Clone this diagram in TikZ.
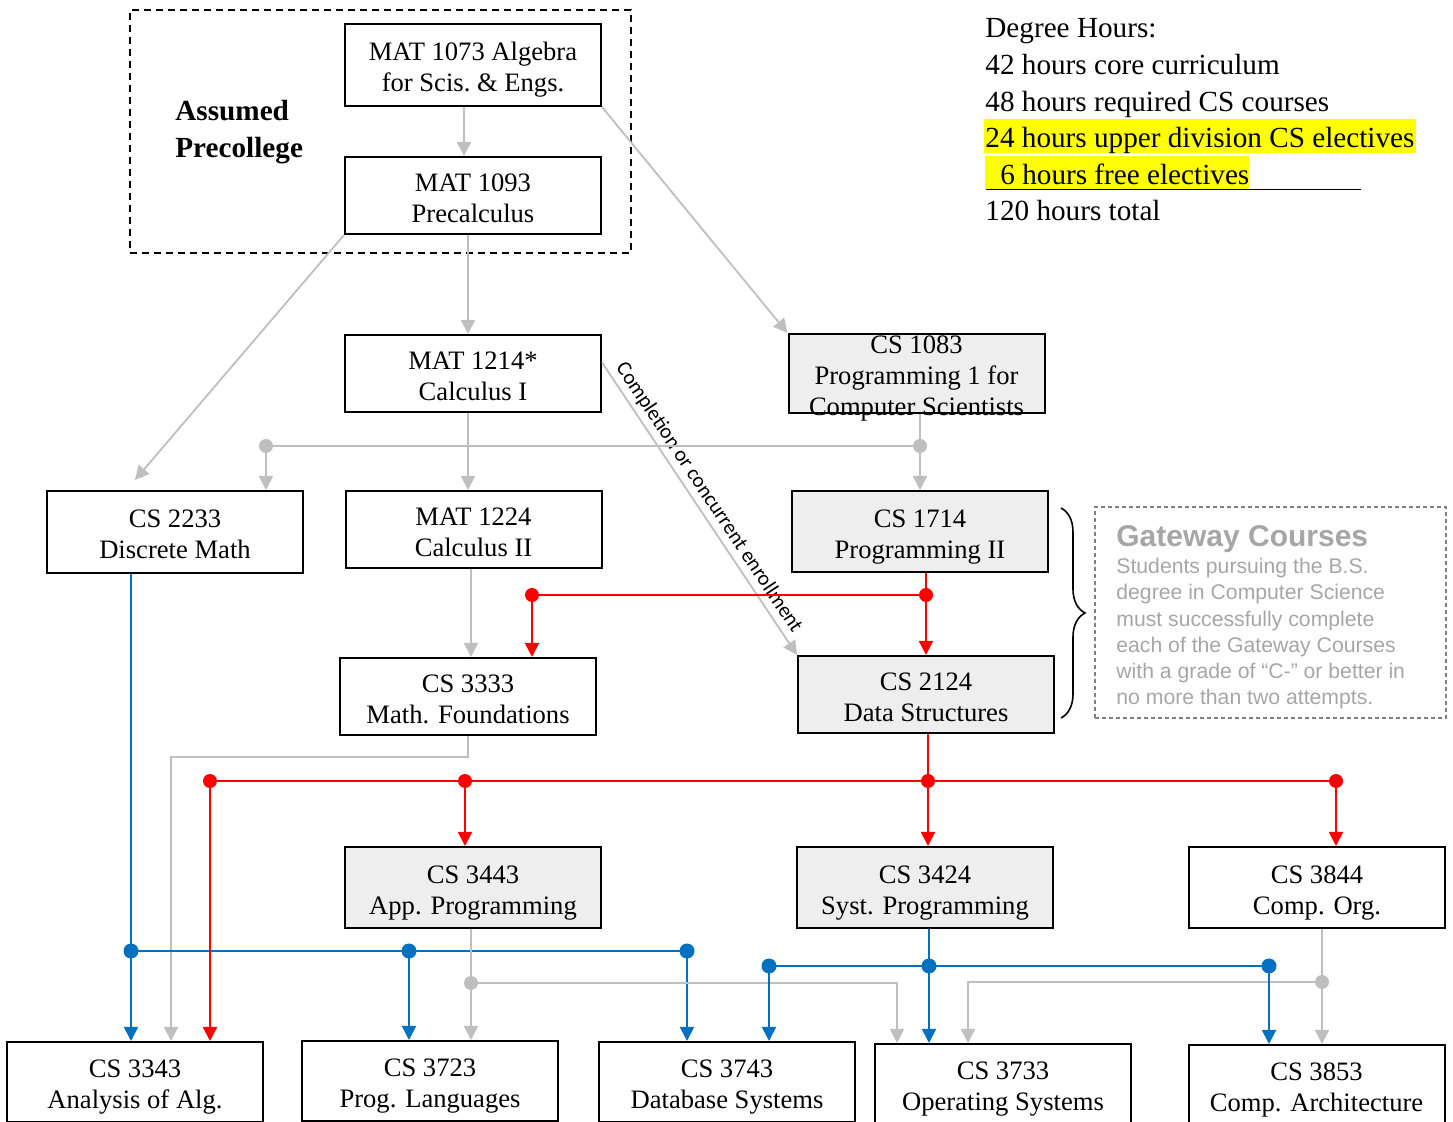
\documentclass[tikz,border=0pt]{standalone}
\usepackage{fontspec}
\setmainfont{Liberation Serif}
\newfontfamily\arialf{Liberation Sans}
\newfontfamily\calf{Carlito}
\usetikzlibrary{arrows.meta,decorations.pathreplacing}
\definecolor{cgray}{HTML}{BFBFBF}
\definecolor{cblue}{HTML}{0070C0}
\definecolor{cred}{HTML}{FF0000}
\definecolor{boxfill}{HTML}{EEEEEE}
\definecolor{gwtext}{HTML}{A6A6A6}
\definecolor{gwframe}{HTML}{7F7F7F}
\definecolor{hl}{HTML}{FFFF00}
\begin{document}
\begin{tikzpicture}[x=0.5pt,y=-0.5pt,
  course/.style={draw=black,line width=1pt,minimum width=128pt,minimum height=#1,inner sep=0pt,align=center,
    text height=29.8pt,text depth=3pt,font=\fontsize{13.3}{15.5}\selectfont},
  course/.default=38.5pt,
  gcourse/.style={course=#1,fill=boxfill},
  gcourse/.default=38.5pt,
  arrowtip/.style={-{Triangle[length=7pt,width=7pt]}},
  gline/.style={draw=cgray,line width=0.9pt},
  bline/.style={draw=cblue,line width=0.9pt},
  rline/.style={draw=cred,line width=0.9pt},
  garr/.style={gline,arrowtip},
  barr/.style={bline,arrowtip},
  rarr/.style={rline,arrowtip},
  dh/.style={anchor=base west,inner sep=0pt,font=\fontsize{14.6}{18}\selectfont},
  gdot/.style={fill=cgray},
  bdot/.style={fill=cblue},
  rdot/.style={fill=cred}
]
\useasboundingbox (0,0) rectangle (1453,1122);
\clip (0,0) rectangle (1453,1122);

% precollege frame
\node[draw=black,line width=0.9pt,dash pattern=on 3.5pt off 2.5pt,minimum width=250.5pt,minimum height=121.5pt,inner sep=0pt] (pre) at (380.5,131.5) {};
\node[anchor=north west,inner sep=0pt,align=left,font=\bfseries\fontsize{14.6}{18.5}\selectfont] (pretxt) at (175,100) {Assumed\\Precollege};

% course boxes
\node[course=41pt] (m1073) at (473,65) {MAT 1073 Algebra\\for Scis.\ \& Engs.};
\node[course] (m1093) at (473,195.5) {MAT 1093\\Precalculus};
\node[course] (m1214) at (473,373.5) {MAT 1214*\\Calculus I};
\node[gcourse=39.5pt,text height=44.8pt,inner ysep=-5pt] (cs1083) at (916.5,373.5) {CS 1083\\Programming 1 for\\Computer Scientists};
\node[course=41pt] (cs2233) at (175,532) {CS 2233\\Discrete Math};
\node[course] (m1224) at (473.5,529.5) {MAT 1224\\Calculus II};
\node[gcourse=40.5pt] (cs1714) at (920,531.5) {CS 1714\\Programming II};
\node[course] (cs3333) at (468,696.5) {CS 3333\\Math. Foundations};
\node[gcourse] (cs2124) at (926,694.5) {CS 2124\\Data Structures};
\node[gcourse=40.5pt] (cs3443) at (473,887.5) {CS 3443\\App. Programming};
\node[gcourse=40.5pt] (cs3424) at (925,887.5) {CS 3424\\Syst. Programming};
\node[course=40.5pt] (cs3844) at (1317,887.5) {CS 3844\\Comp. Org.};
\node[course=40pt] (cs3343) at (135,1082) {CS 3343\\Analysis of Alg.};
\node[course=40pt] (cs3723) at (430,1081) {CS 3723\\Prog. Languages};
\node[course=40pt] (cs3743) at (727,1082) {CS 3743\\Database Systems};
\node[course=40pt] (cs3733) at (1003,1084) {CS 3733\\Operating Systems};
\node[course=40pt] (cs3853) at (1316.5,1085) {CS 3853\\Comp. Architecture};

% degree hours
\fill[hl] (984,119) rectangle (1416,153);
\fill[hl] (985,156) rectangle (1249,189);
\draw[line width=0.8pt] (986,189.5) -- (1361,189.5);
\node[dh] (dh1) at (985,38) {Degree Hours:};
\node[dh] (dh2) at (985,75) {42 hours core curriculum};
\node[dh] (dh3) at (985,111.5) {48 hours required CS courses};
\node[dh] (dh4) at (985,148) {24 hours upper division CS electives};
\node[dh] (dh5) at (1000,184.5) {6 hours free electives};
\node[dh] (dh6) at (985,220.5) {120 hours total};

% gateway note
\node[draw=gwframe,dash pattern=on 2pt off 1.5pt,line width=0.6pt,minimum width=175.5pt,minimum height=105.5pt,inner sep=0pt] (gwbox) at (1270.5,612.5) {};
\node[anchor=base west,inner sep=0pt,text=gwtext,font=\arialf\bfseries\fontsize{15}{18}\selectfont] (gwtitle) at (1116,547) {Gateway Courses};
\node[anchor=north west,inner sep=0pt,align=left,text=gwtext,font=\arialf\fontsize{10.6}{13.1}\selectfont] (gwbody) at (1116,558) {Students pursuing the B.S.\\degree in Computer Science\\must successfully complete\\each of the Gateway Courses\\with a grade of “C-” or better in\\no more than two attempts.};
\coordinate (br1) at (1061,508);
\coordinate (br2) at (1061,718);
\draw[line width=0.8pt,decorate,decoration={brace,amplitude=12pt}] (br1) -- (br2);

% junction coordinates
\coordinate (a3) at (135,480);
\coordinate (jg1) at (920,446);
\coordinate (jg2) at (266,446);
\coordinate (bend1) at (171,757);
\coordinate (jg3) at (471,983);
\coordinate (bend2) at (897,983);
\coordinate (jg4) at (1322,982);
\coordinate (bend3) at (968,982);
\coordinate (jr1) at (926,595);
\coordinate (jr2) at (532,595);
\coordinate (jr3) at (928,781);
\coordinate (jr4) at (210,781);
\coordinate (jr5) at (465,781);
\coordinate (jr6) at (1336,781);
\coordinate (jb1) at (131,951);
\coordinate (jb2) at (409,951);
\coordinate (jb3) at (687,951);
\coordinate (jb4) at (769,966);
\coordinate (jb5) at (929,966);
\coordinate (jb6) at (1269,966);

% gray connectors
\draw[garr] (464,0 |- m1073.south) -- (464,0 |- m1093.north);
\draw[garr] (m1073.south east) -- (cs1083.north west);
\draw[garr] (m1093.south west) -- (a3);
\draw[garr] (468,0 |- m1093.south) -- (468,0 |- m1214.north);
\draw[garr] ([yshift=5.5pt]m1214.east) -- (cs2124.north west)
  node[midway,sloped,above,inner sep=2pt,xshift=-2pt,font=\calf\fontsize{10.5}{12}\selectfont] {Completion or concurrent enrollment};
\draw[garr] (468,0 |- m1214.south) -- (468,0 |- m1224.north);
\draw[garr] (jg1 |- cs1083.south) -- (jg1 |- cs1714.north);
\draw[gline] (jg1) -- (jg2);
\draw[garr] (jg2) -- (jg2 |- cs2233.north);
\draw[garr] (471,0 |- m1224.south) -- (471,0 |- cs3333.north);
\draw[garr] (cs3333.south) -- (cs3333.south |- bend1) -- (bend1) -- (bend1 |- cs3343.north);

% blue connectors
\draw[barr] (jb1 |- cs2233.south) -- (jb1 |- cs3343.north);
\draw[bline] (jb1) -- (jb3);
\draw[barr] (jb2) -- (jb2 |- cs3723.north);
\draw[barr] (jb3) -- (jb3 |- cs3743.north);

% red connectors
\draw[rarr] (jr1 |- cs1714.south) -- (jr1 |- cs2124.north);
\draw[rline] (jr1) -- (jr2);
\draw[rarr] (jr2) -- (jr2 |- cs3333.north);
\draw[rarr] (jr3 |- cs2124.south) -- (jr3 |- cs3424.north);
\draw[rline] (jr4) -- (jr6);
\draw[rarr] (jr4) -- (jr4 |- cs3343.north);
\draw[rarr] (jr5) -- (jr5 |- cs3443.north);
\draw[rarr] (jr6) -- (jr6 |- cs3844.north);

% lower gray connectors
\draw[garr] (jg3 |- cs3443.south) -- (jg3 |- cs3723.north);
\draw[garr] (jg3) -- (bend2) -- (bend2 |- cs3733.north);
\draw[garr] (jg4 |- cs3844.south) -- (jg4 |- cs3853.north);
\draw[garr] (jg4) -- (bend3) -- (bend3 |- cs3733.north);

% lower blue connectors
\draw[barr] (jb5 |- cs3424.south) -- (jb5 |- cs3733.north);
\draw[bline] (jb4) -- (jb6);
\draw[barr] (jb4) -- (jb4 |- cs3743.north);
\draw[barr] (jb6) -- (jb6 |- cs3853.north);

% junction dots
\foreach \p in {jg1,jg2,jg3,jg4} \fill[gdot] (\p) circle (3.5pt);
\foreach \p in {jr1,jr2,jr3,jr4,jr5,jr6} \fill[rdot] (\p) circle (3.5pt);
\foreach \p in {jb1,jb2,jb3,jb4,jb5,jb6} \fill[bdot] (\p) circle (3.75pt);
\end{tikzpicture}
\end{document}
